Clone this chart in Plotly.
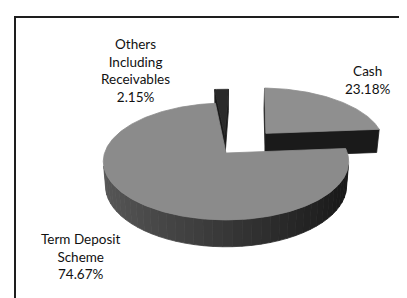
import numpy as np
import plotly.graph_objects as go

# ---------------- data ----------------
categories = ["Cash", "Term Deposit Scheme", "Others Including Receivables"]
label_lines = ["Cash", "Term Deposit<br>Scheme", "Others<br>Including<br>Receivables"]
values = [23.18, 74.67, 2.15]

# ---------------- style / geometry ----------------
W, H = 407, 298
CX, CY = 218.0, 145.0          # screen position of pie centre
F = 737.0                      # focal length (px)
D = 6.07                       # camera distance (pie radius = 1)
PHI = np.radians(28.1)         # camera elevation
DEPTH = 0.23                   # thickness of the pie
START = 2.0                    # first slice angle (deg, clockwise from 12 o'clock)
PULL = [0.5, 0.0, 0.33]
TOP_COLORS = ["#8f8f8f", "#8b8b8b", "#2a2a2a"]
CUT_COLOR = "#1a1a1a"
WALL_DARK = np.array([0x16, 0x16, 0x16])
WALL_LIGHT = np.array([0x58, 0x58, 0x58])
LABEL_POS = [(360, 72), (73, 248), (127, 62)]

S, C = np.sin(PHI), np.cos(PHI)
CAM = np.array([0.0, D * S, -D * C])


def proj(X, Y, Z):
    X, Y, Z = np.asarray(X, float), np.asarray(Y, float), np.asarray(Z, float)
    w = D - Y * S + Z * C
    v = Y * C + Z * S
    return CX + F * X / w, CY - F * v / w


def visible(point, normal):
    return float(np.dot(normal, CAM - point)) > 0


def wall_color(theta_deg):
    t = (1 - np.sin(np.radians(theta_deg))) / 2
    c = WALL_DARK + (WALL_LIGHT - WALL_DARK) * t
    return "rgb(%d,%d,%d)" % tuple(int(round(x)) for x in c)


def poly_trace(xs, ys, color):
    xs = list(xs) + [xs[0]]
    ys = list(ys) + [ys[0]]
    return go.Scatter(x=xs, y=ys, mode="lines", fill="toself",
                      fillcolor=color, line=dict(color=color, width=0.8),
                      hoverinfo="skip", showlegend=False)


total = sum(values)
spans = [v / total * 360.0 for v in values]
starts = START + np.concatenate([[0], np.cumsum(spans)[:-1]])

slices = []
for i, (a0, sp) in enumerate(zip(starts, spans)):
    a1 = a0 + sp
    mid = np.radians((a0 + a1) / 2)
    ox, oz = PULL[i] * np.sin(mid), PULL[i] * np.cos(mid)
    key = oz + 0.5 * np.cos(mid)
    slices.append((key, i, a0, a1, ox, oz))
slices.sort(key=lambda s: -s[0])

traces = []
for key, i, a0, a1, ox, oz in slices:
    n = max(int(np.ceil((a1 - a0) / 1.0)), 2)
    th = np.linspace(a0, a1, n + 1)
    rad = np.radians(th)
    rx, rz = ox + np.sin(rad), oz + np.cos(rad)

    # cut faces
    for ang, sign in ((a0, -1), (a1, 1)):
        r = np.radians(ang)
        normal = np.array([sign * np.cos(r), 0.0, -sign * np.sin(r)])
        pt = np.array([ox + 0.5 * np.sin(r), -DEPTH / 2, oz + 0.5 * np.cos(r)])
        if visible(pt, normal):
            X = [ox, ox + np.sin(r), ox + np.sin(r), ox]
            Y = [0, 0, -DEPTH, -DEPTH]
            Z = [oz, oz + np.cos(r), oz + np.cos(r), oz]
            sx, sy = proj(X, Y, Z)
            traces.append(poly_trace(sx, sy, CUT_COLOR))

    # outer wall in strips
    step = 4
    k = 0
    while k < len(th) - 1:
        k2 = min(k + step, len(th) - 1)
        tm = np.radians((th[k] + th[k2]) / 2)
        pt = np.array([ox + np.sin(tm), -DEPTH / 2, oz + np.cos(tm)])
        nrm = np.array([np.sin(tm), 0.0, np.cos(tm)])
        if visible(pt, nrm):
            seg = slice(k, k2 + 1)
            tx, ty = proj(rx[seg], np.zeros(k2 - k + 1), rz[seg])
            bx, by = proj(rx[seg], -DEPTH * np.ones(k2 - k + 1), rz[seg])
            traces.append(poly_trace(np.concatenate([tx, bx[::-1]]),
                                     np.concatenate([ty, by[::-1]]),
                                     wall_color(np.degrees(tm))))
        k = k2

    # top
    tx, ty = proj(np.concatenate([[ox], rx]), np.zeros(len(rx) + 1),
                  np.concatenate([[oz], rz]))
    traces.append(poly_trace(tx, ty, TOP_COLORS[i]))

fig = go.Figure(traces)

annotations = []
for i, (lab, v) in enumerate(zip(label_lines, values)):
    x, y = LABEL_POS[i]
    annotations.append(dict(x=x, y=y, xref="x", yref="y",
                            text=f"{lab}<br>{v:.2f}%", showarrow=False,
                            xanchor="center", yanchor="middle", align="center",
                            font=dict(family="Lato", size=13.5, color="#111111")))

fig.update_layout(
    width=W, height=H, autosize=False,
    margin=dict(l=0, r=0, t=0, b=0),
    paper_bgcolor="white", plot_bgcolor="white",
    xaxis=dict(range=[0, W], visible=False, fixedrange=True),
    yaxis=dict(range=[H, 0], visible=False, fixedrange=True),
    annotations=annotations,
    shapes=[
        dict(type="line", xref="x", yref="y", x0=6, x1=W, y0=9, y1=9,
             line=dict(color="#1e1e1e", width=2)),
        dict(type="line", xref="x", yref="y", x0=7, x1=7, y0=8, y1=H,
             line=dict(color="#1e1e1e", width=2)),
    ],
    showlegend=False,
)

fig.write_html("out.html")
